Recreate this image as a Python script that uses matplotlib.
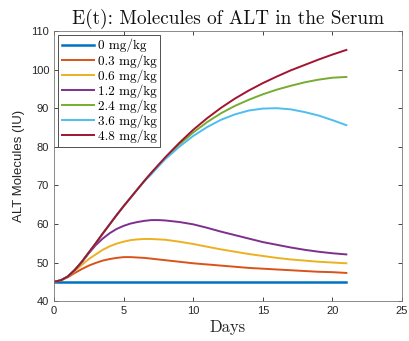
import matplotlib
matplotlib.use("Agg")
import matplotlib.pyplot as plt

t_days = [0, 0.5, 1, 1.5, 2, 2.5, 3, 3.5, 4, 4.5, 5, 5.5, 6, 6.5, 7, 7.5, 8,
          9, 10, 11, 12, 13, 14, 15, 16, 17, 18, 19, 20, 21]

doses = ["0 mg/kg", "0.3 mg/kg", "0.6 mg/kg", "1.2 mg/kg", "2.4 mg/kg", "3.6 mg/kg", "4.8 mg/kg"]

e_0 = [45] * 30
e_03 = [45, 45.4, 46.2, 47.3, 48.3, 49.2, 49.9, 50.5, 50.9, 51.2, 51.4, 51.4, 51.3, 51.2, 51.0, 50.8, 50.6,
        50.2, 49.8, 49.5, 49.2, 48.9, 48.6, 48.4, 48.2, 48.0, 47.8, 47.6, 47.5, 47.3]
e_06 = [45, 45.4, 46.3, 47.8, 49.4, 50.9, 52.1, 53.3, 54.2, 54.9, 55.4, 55.8, 56.0, 56.1, 56.1, 56.0, 55.9,
        55.4, 54.8, 54.1, 53.4, 52.8, 52.2, 51.7, 51.2, 50.8, 50.5, 50.2, 50.0, 49.8]
e_12 = [45, 45.4, 46.4, 48.1, 50.1, 52.4, 54.5, 56.2, 57.6, 58.7, 59.5, 60.1, 60.5, 60.8, 61.0, 61.0, 60.9,
        60.5, 59.9, 59.0, 58.0, 57.1, 56.2, 55.3, 54.6, 53.9, 53.3, 52.8, 52.4, 52.1]
e_24 = [45, 45.4, 46.4, 48.1, 50.2, 52.6, 55.0, 57.5, 59.9, 62.3, 64.6, 66.8, 69.0, 71.2, 73.3, 75.2, 77.1,
        80.6, 83.7, 86.4, 88.7, 90.6, 92.2, 93.6, 94.8, 95.8, 96.7, 97.4, 97.9, 98.1]
e_36 = [45, 45.4, 46.4, 48.1, 50.2, 52.6, 55.0, 57.5, 59.9, 62.3, 64.6, 66.8, 69.0, 71.1, 72.9, 74.9, 76.8,
        80.0, 82.8, 85.1, 87.0, 88.4, 89.4, 89.9, 90.0, 89.7, 89.0, 88.1, 86.9, 85.6]
e_48 = [45, 45.4, 46.4, 48.1, 50.2, 52.6, 55.0, 57.5, 59.9, 62.3, 64.6, 66.8, 69.0, 71.2, 73.3, 75.3, 77.3,
        81.0, 84.4, 87.4, 90.1, 92.5, 94.6, 96.5, 98.2, 99.8, 101.2, 102.6, 103.9, 105.1]

series = [e_0, e_03, e_06, e_12, e_24, e_36, e_48]
colors = ["#0072BD", "#D95319", "#EDB120", "#7E2F8E", "#77AC30", "#4DBEEE", "#A2142F"]

x_ticks = [0, 5, 10, 15, 20, 25]
y_ticks = [40, 50, 60, 70, 80, 90, 100, 110]

fig = plt.figure(figsize=(4.09, 3.41), dpi=100)
ax = fig.add_axes([0.132, 0.117, 0.851, 0.792])

for vals, lab, c in zip(series, doses, colors):
    lw = 1.8 if lab.startswith("0 ") else 1.4
    ax.plot(t_days, vals, color=c, lw=lw, label=lab)

ax.set_xlim(0, 25)
ax.set_ylim(40, 110)
ax.set_xticks(x_ticks)
ax.set_yticks(y_ticks)
ax.tick_params(direction="in", length=3, width=0.6, top=True, right=True,
               labelsize=8, colors="#262626", labelcolor="#262626")
for s in ax.spines.values():
    s.set_color("#777777")
    s.set_linewidth(0.6)
for lbl in ax.get_xticklabels() + ax.get_yticklabels():
    lbl.set_fontfamily("Liberation Sans")

ax.set_title("E(t): Molecules of ALT in the Serum", fontname="cmr10", fontsize=13.8,
             color="#111111", pad=5)
ax.set_xlabel("Days", fontname="cmr10", fontsize=12, color="#262626", labelpad=3)
ax.set_ylabel("ALT Molecules (IU)", fontname="Liberation Sans", fontsize=9.5,
              color="#262626", labelpad=4)

leg = ax.legend(loc="upper left", prop={"family": "cmr10", "size": 9.5},
                frameon=True, fancybox=False, edgecolor="#333333", framealpha=1,
                handlelength=2.4, handletextpad=0.3, borderpad=0.3, labelspacing=0.12,
                borderaxespad=0.3)
leg.get_frame().set_linewidth(0.6)

fig.savefig("out.png", dpi=100)
